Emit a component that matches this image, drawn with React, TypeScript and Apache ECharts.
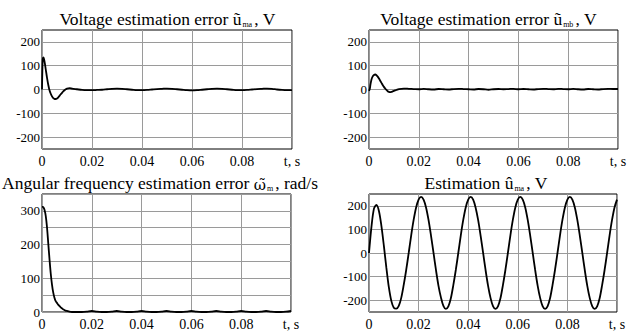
import React, { useEffect, useRef } from "react";
import * as echarts from "echarts";

// time samples for error signals (s)
const T_ERR = [
  0, 0.0003, 0.0006, 0.001, 0.0015, 0.002, 0.0025, 0.003, 0.0035, 0.004, 0.0045, 0.005,
  0.0055, 0.006, 0.0065, 0.007, 0.0075, 0.008, 0.0085, 0.009, 0.0095, 0.01, 0.011, 0.012,
  0.014, 0.016, 0.018, 0.02, 0.022, 0.024, 0.026, 0.028, 0.03, 0.032, 0.034, 0.036, 0.038,
  0.04, 0.042, 0.044, 0.046, 0.048, 0.05, 0.052, 0.054, 0.056, 0.058, 0.06, 0.062, 0.064,
  0.066, 0.068, 0.07, 0.072, 0.074, 0.076, 0.078, 0.08, 0.082, 0.084, 0.086, 0.088, 0.09,
  0.092, 0.094, 0.096, 0.098, 0.1,
];

// voltage estimation error u~_ma (V)
const ERR_MA = [
  0, 128, 135, 118, 85, 50, 20, -3, -18, -29, -36, -40,
  -40, -38, -33, -27, -20, -14, -8, -3, 1, 4, 6, 4,
  1, -2, -3, -3, -2, -1, 1, 3, 4, 3, 1, -1, -3,
  -3, -2, 0, 2, 3, 4, 3, 1, -1, -3, -4, -3, -1,
  1, 3, 4, 3, 1, -1, -3, -3, -2, 0, 2, 3, 4,
  3, 0, -2, -3, -3,
];

// voltage estimation error u~_mb (V)
const ERR_MB = [
  -6, 2, 22, 42, 55, 61, 63, 60, 54, 46, 37, 28,
  19, 11, 4, -2, -7, -10, -11, -10, -8, -6, -2, 2,
  4, 3, 2, 1, 3, 1, 0, 2, 1, 0, 2, 3, 2,
  1, 0, 2, 1, -1, 1, 2, 1, 2, 3, 1, 2, 1,
  0, 2, 3, 2, 1, 3, 2, 1, 3, 1, 0, 2, 1,
  0, 2, 3, 2, 2,
];

// angular frequency estimation error w~_m (rad/s)
const ERR_W = [
  312, 312, 310, 303, 285, 252, 205, 158, 115, 82, 58, 42,
  32, 27, 22, 18, 14, 11, 8, 6, 4, 3, 1, 0,
  0, 0, 1, 3, 1, 0, 0, 1, 3, 1, 0, 0, 1,
  3, 1, 0, 0, 1, 3, 1, 0, 0, 1, 3, 1, 0,
  0, 1, 3, 1, 0, 0, 1, 3, 1, 0, 0, 1, 3,
  1, 0, 0, 1, 3,
];

// time samples for the estimate (s)
const T_EST = [
  0, 0.001, 0.002, 0.003, 0.004, 0.005, 0.006, 0.007, 0.008, 0.009,
  0.01, 0.011, 0.012, 0.013, 0.014, 0.015, 0.016, 0.017, 0.018, 0.019,
  0.02, 0.021, 0.022, 0.023, 0.024, 0.025, 0.026, 0.027, 0.028, 0.029,
  0.03, 0.031, 0.032, 0.033, 0.034, 0.035, 0.036, 0.037, 0.038, 0.039,
  0.04, 0.041, 0.042, 0.043, 0.044, 0.045, 0.046, 0.047, 0.048, 0.049,
  0.05, 0.051, 0.052, 0.053, 0.054, 0.055, 0.056, 0.057, 0.058, 0.059,
  0.06, 0.061, 0.062, 0.063, 0.064, 0.065, 0.066, 0.067, 0.068, 0.069,
  0.07, 0.071, 0.072, 0.073, 0.074, 0.075, 0.076, 0.077, 0.078, 0.079,
  0.08, 0.081, 0.082, 0.083, 0.084, 0.085, 0.086, 0.087, 0.088, 0.089,
  0.09, 0.091, 0.092, 0.093, 0.094, 0.095, 0.096, 0.097, 0.098, 0.099,
  0.1,
];

// estimation u^_ma (V)
const EST_MA = [
  0, 112, 188, 204, 178, 115, 30, -62, -145, -203,
  -232, -236, -224, -190, -135, -72, 0, 74, 140, 193,
  226, 238, 226, 193, 140, 74, 2, -72, -138, -188,
  -224, -237, -226, -192, -136, -72, 0, 74, 140, 193,
  226, 238, 226, 192, 140, 74, 2, -72, -138, -190,
  -225, -237, -226, -192, -136, -72, 0, 74, 140, 193,
  226, 238, 226, 193, 140, 74, 2, -72, -138, -190,
  -225, -237, -226, -192, -136, -72, 0, 74, 140, 193,
  226, 238, 226, 193, 140, 74, 2, -72, -138, -190,
  -225, -237, -226, -192, -136, -72, 0, 74, 140, 193,
  226,
];

const X_TICKS = { min: 0, max: 0.1, interval: 0.02 };

const FONT = "Liberation Serif";
const GRID_COLOR = "#9a9a9a";

const pair = (t: number[], v: number[]) => t.map((x, i) => [x, v[i]]);

const tickRich = (size: number) => ({
  a: { fontFamily: FONT, fontSize: size, color: "#000000" },
});

export default function App() {
  const ref = useRef<HTMLDivElement>(null);

  useEffect(() => {
    if (!ref.current) return;
    const chart = echarts.init(ref.current, null, { renderer: "svg" });

    const grids = [
      { left: 42, top: 30, width: 250, height: 119 },
      { left: 369, top: 30, width: 249, height: 119 },
      { left: 42, top: 194, width: 249, height: 119 },
      { left: 369, top: 194, width: 248, height: 119 },
    ].map((g) => ({ ...g, show: true, borderColor: "#000", borderWidth: 1, containLabel: false }));

    const xAxis = [0, 1, 2, 3].map((i) => ({
      type: "value",
      gridIndex: i,
      min: X_TICKS.min,
      max: X_TICKS.max,
      interval: X_TICKS.interval,
      axisLine: { show: false },
      axisTick: { show: false },
      splitLine: { show: true, lineStyle: { color: GRID_COLOR, width: 1 } },
      axisLabel: {
        show: true,
        margin: 5,
        fontFamily: FONT,
        fontSize: 14,
        color: "#000",
        showMaxLabel: true,
        showMinLabel: true,
        rich: tickRich(14),
        formatter: (v: number) =>
          "{a|" +
          (Math.abs(v) < 1e-9 ? "0" : Math.abs(v - 0.1) < 1e-9 ? "t, s" : v.toFixed(2)) +
          "}",
      },
    }));

    const yLabel = (step: number) => ({
      show: true,
      margin: 2,
      fontFamily: FONT,
      fontSize: 13,
      color: "#000",
      showMaxLabel: true,
      showMinLabel: true,
      rich: tickRich(13),
      formatter: (v: number) =>
        Math.round(v) % step === 0 ? "{a|" + String(Math.round(v)) + "}" : "",
    });

    const yVolt = (i: number) => ({
      type: "value",
      gridIndex: i,
      min: -250,
      max: 250,
      interval: 50,
      axisLine: { show: false },
      axisTick: { show: false },
      splitLine: { show: true, lineStyle: { color: ["transparent", GRID_COLOR], width: 1 } },
      axisLabel: yLabel(100),
    });

    const yAxis = [
      yVolt(0),
      yVolt(1),
      {
        type: "value",
        gridIndex: 2,
        min: 0,
        max: 350,
        interval: 50,
        axisLine: { show: false },
        axisTick: { show: false },
        splitLine: { show: true, lineStyle: { color: GRID_COLOR, width: 1 } },
        axisLabel: yLabel(100),
      },
      yVolt(3),
    ];

    const line = (i: number, t: number[], v: number[]) => ({
      type: "line",
      xAxisIndex: i,
      yAxisIndex: i,
      data: pair(t, v),
      showSymbol: false,
      symbol: "none",
      smooth: 0.3,
      lineStyle: { color: "#000", width: 1.8 },
      clip: true,
    });

    const makeRich = () => ({
      m: { fontFamily: FONT, fontSize: 17.5, color: "#000000", lineHeight: 20, verticalAlign: "bottom" },
      w: { fontFamily: "DejaVu Serif", fontSize: 15, color: "#000000", lineHeight: 20, verticalAlign: "bottom" },
      s: { fontFamily: FONT, fontSize: 8, color: "#000000", lineHeight: 20, verticalAlign: "bottom", padding: [0, 2, 0, 1] },
    });

    const title = (cx: number, top: number, text: string) => ({
      text,
      left: cx,
      top,
      textAlign: "center",
      padding: 0,
      textStyle: { rich: makeRich(), fontFamily: FONT, fontSize: 17.5, color: "#000000", fontWeight: "normal" },
    });

    chart.setOption({
      animation: false,
      backgroundColor: "#fff",
      textStyle: { fontFamily: FONT },
      title: [
        title(167.5, 8, "{m|Voltage estimation error ũ}{s|ma}{m|, V}"),
        title(488.5, 8, "{m|Voltage estimation error ũ}{s|mb}{m|, V}"),
        title(160, 172, "{m|Angular frequency estimation error }{w|ω\u0303}{s|m}{m|, rad/s}"),
        title(486, 172, "{m|Estimation û}{s|ma}{m|, V}"),
      ],
      grid: grids,
      xAxis,
      yAxis,
      series: [
        line(0, T_ERR, ERR_MA),
        line(1, T_ERR, ERR_MB),
        line(2, T_ERR, ERR_W),
        line(3, T_EST, EST_MA),
      ],
    });

    return () => chart.dispose();
  }, []);

  return (
    <div
      ref={ref}
      style={{ position: "absolute", left: 0, top: 0, width: 638, height: 331 }}
    />
  );
}
